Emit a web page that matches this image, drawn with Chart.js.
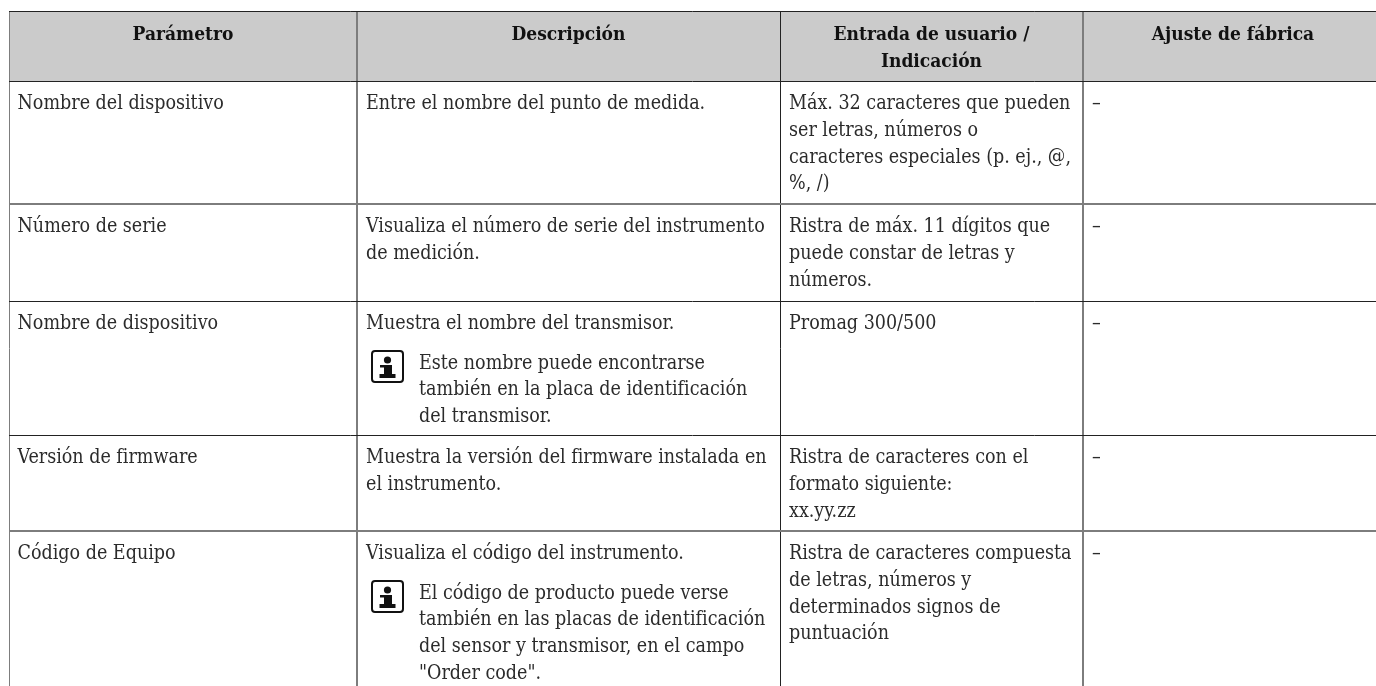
<!DOCTYPE html>
<html lang="es">
<head>
<meta charset="utf-8">
<title>Parámetros</title>
<script src="https://cdn.jsdelivr.net/npm/chart.js@4"></script>
<style>html,body{margin:0;padding:0;background:#fff}canvas{display:block}</style>
</head>
<body>
<canvas id="c" width="1376" height="686"></canvas>
<script>
// ---- table content ----
const headers = [["Parámetro"], ["Descripción"], ["Entrada de usuario /", "Indicación"], ["Ajuste de fábrica"]];
const parametros = ["Nombre del dispositivo", "Número de serie", "Nombre de dispositivo", "Versión de firmware", "Código de Equipo"];
const descripciones = [
  ["Entre el nombre del punto de medida."],
  ["Visualiza el número de serie del instrumento", "de medición."],
  ["Muestra el nombre del transmisor."],
  ["Muestra la versión del firmware instalada en", "el instrumento."],
  ["Visualiza el código del instrumento."]
];
const notas = [
  null,
  null,
  ["Este nombre puede encontrarse", "también en la placa de identificación", "del transmisor."],
  null,
  ["El código de producto puede verse", "también en las placas de identificación", "del sensor y transmisor, en el campo", "\"Order code\"."]
];
const entradas = [
  ["Máx. 32 caracteres que pueden", "ser letras, números o", "caracteres especiales (p. ej., @,", "%, /)"],
  ["Ristra de máx. 11 dígitos que", "puede constar de letras y", "números."],
  ["Promag 300/500"],
  ["Ristra de caracteres con el", "formato siguiente:", "xx.yy.zz"],
  ["Ristra de caracteres compuesta", "de letras, números y", "determinados signos de", "puntuación"]
];
const ajustes = ["–", "–", "–", "–", "–"];

// ---- layout (table geometry, in axis units) ----
const colEdges = [9, 357, 780, 1083];
const rowEdges = [11, 81, 204, 301, 435, 531];
const tableRight = 1376, tableBottom = 686, headerRight = 1383;
const greyCols = [9, 357, 1083], greyRows = [204, 531];
const FONT = '"DejaVu Serif Condensed","DejaVu Serif",serif';
const SIZE = 19.5, BOLD = 19, LINE = 26.8;

const tablePlugin = {
  id: "tableText",
  afterDraw(chart) {
    const ctx = chart.ctx, X = chart.scales.x, Y = chart.scales.y;
    ctx.save();
    ctx.textBaseline = "alphabetic";
    // header
    ctx.font = "bold " + BOLD + "px " + FONT;
    ctx.fillStyle = "#111";
    ctx.textAlign = "center";
    headers.forEach((lines, c) => {
      const l = X.getPixelForValue(colEdges[c]);
      const r = X.getPixelForValue(c < 3 ? colEdges[c + 1] : headerRight);
      lines.forEach((t, i) => ctx.fillText(t, (l + r) / 2, Y.getPixelForValue(39.5) + i * 27));
    });
    // body
    ctx.font = SIZE + "px " + FONT;
    ctx.fillStyle = "#2b2b2b";
    ctx.textAlign = "left";
    const put = (lines, x, y) => lines.forEach((t, i) => ctx.fillText(t, x, y + i * LINE));
    parametros.forEach((p, r) => {
      const y = Y.getPixelForValue(rowEdges[r + 1] + 28);
      put([p], X.getPixelForValue(colEdges[0] + 8.5), y);
      const x2 = X.getPixelForValue(colEdges[1] + 9);
      put(descripciones[r], x2, y);
      if (notas[r]) {
        const ny = y + 39.5;
        put(notas[r], X.getPixelForValue(colEdges[1] + 62), ny);
        const bx = X.getPixelForValue(colEdges[1] + 15), by = Math.round(ny - 17.5);
        ctx.lineWidth = 2;
        ctx.strokeStyle = "#111";
        ctx.beginPath();
        ctx.roundRect(bx, by, 31, 31, 3);
        ctx.stroke();
        ctx.fillStyle = "#111";
        ctx.beginPath();
        ctx.arc(bx + 15.5, by + 9, 3.6, 0, 2 * Math.PI);
        ctx.fill();
        ctx.fillRect(bx + 8, by + 14, 11, 2.5);
        ctx.fillRect(bx + 12, by + 14, 8, 11);
        ctx.fillRect(bx + 7.5, by + 23, 16, 4);
        ctx.fillStyle = "#2b2b2b";
      }
      put(entradas[r], X.getPixelForValue(colEdges[2] + 9), y);
      put([ajustes[r]], X.getPixelForValue(colEdges[3] + 9), y);
    });
    ctx.restore();
  }
};

new Chart(document.getElementById("c"), {
  type: "bar",
  data: { datasets: [{
    data: [{ x: (colEdges[0] + tableRight) / 2, y: [rowEdges[0], rowEdges[1]] }],
    backgroundColor: "#cbcbcb",
    barThickness: tableRight - colEdges[0],
    borderWidth: 0
  }] },
  options: {
    responsive: false,
    animation: false,
    layout: { padding: { left: colEdges[0], top: rowEdges[0], right: 0, bottom: 0 } },
    plugins: { legend: { display: false }, tooltip: { enabled: false }, title: { display: false } },
    scales: {
      x: {
        type: "linear", offset: false, min: colEdges[0], max: tableRight,
        afterBuildTicks: s => { s.ticks = colEdges.map(value => ({ value })); },
        ticks: { display: false },
        border: { display: false },
        grid: {
          offset: false, z: 1, drawTicks: false,
          color: c => greyCols.includes(c.tick && c.tick.value) ? "#7d7d7d" : "#222",
          lineWidth: c => (c.tick && (c.tick.value === 357 || c.tick.value === 1083)) ? 2 : 1
        }
      },
      y: {
        type: "linear", reverse: true, min: rowEdges[0], max: tableBottom,
        afterBuildTicks: s => { s.ticks = rowEdges.map(value => ({ value })); },
        ticks: { display: false },
        border: { display: false },
        grid: {
          z: 1, drawTicks: false,
          color: c => greyRows.includes(c.tick && c.tick.value) ? "#7d7d7d" : "#222",
          lineWidth: c => greyRows.includes(c.tick && c.tick.value) ? 2 : 1
        }
      }
    }
  },
  plugins: [tablePlugin]
});
</script>
</body>
</html>
